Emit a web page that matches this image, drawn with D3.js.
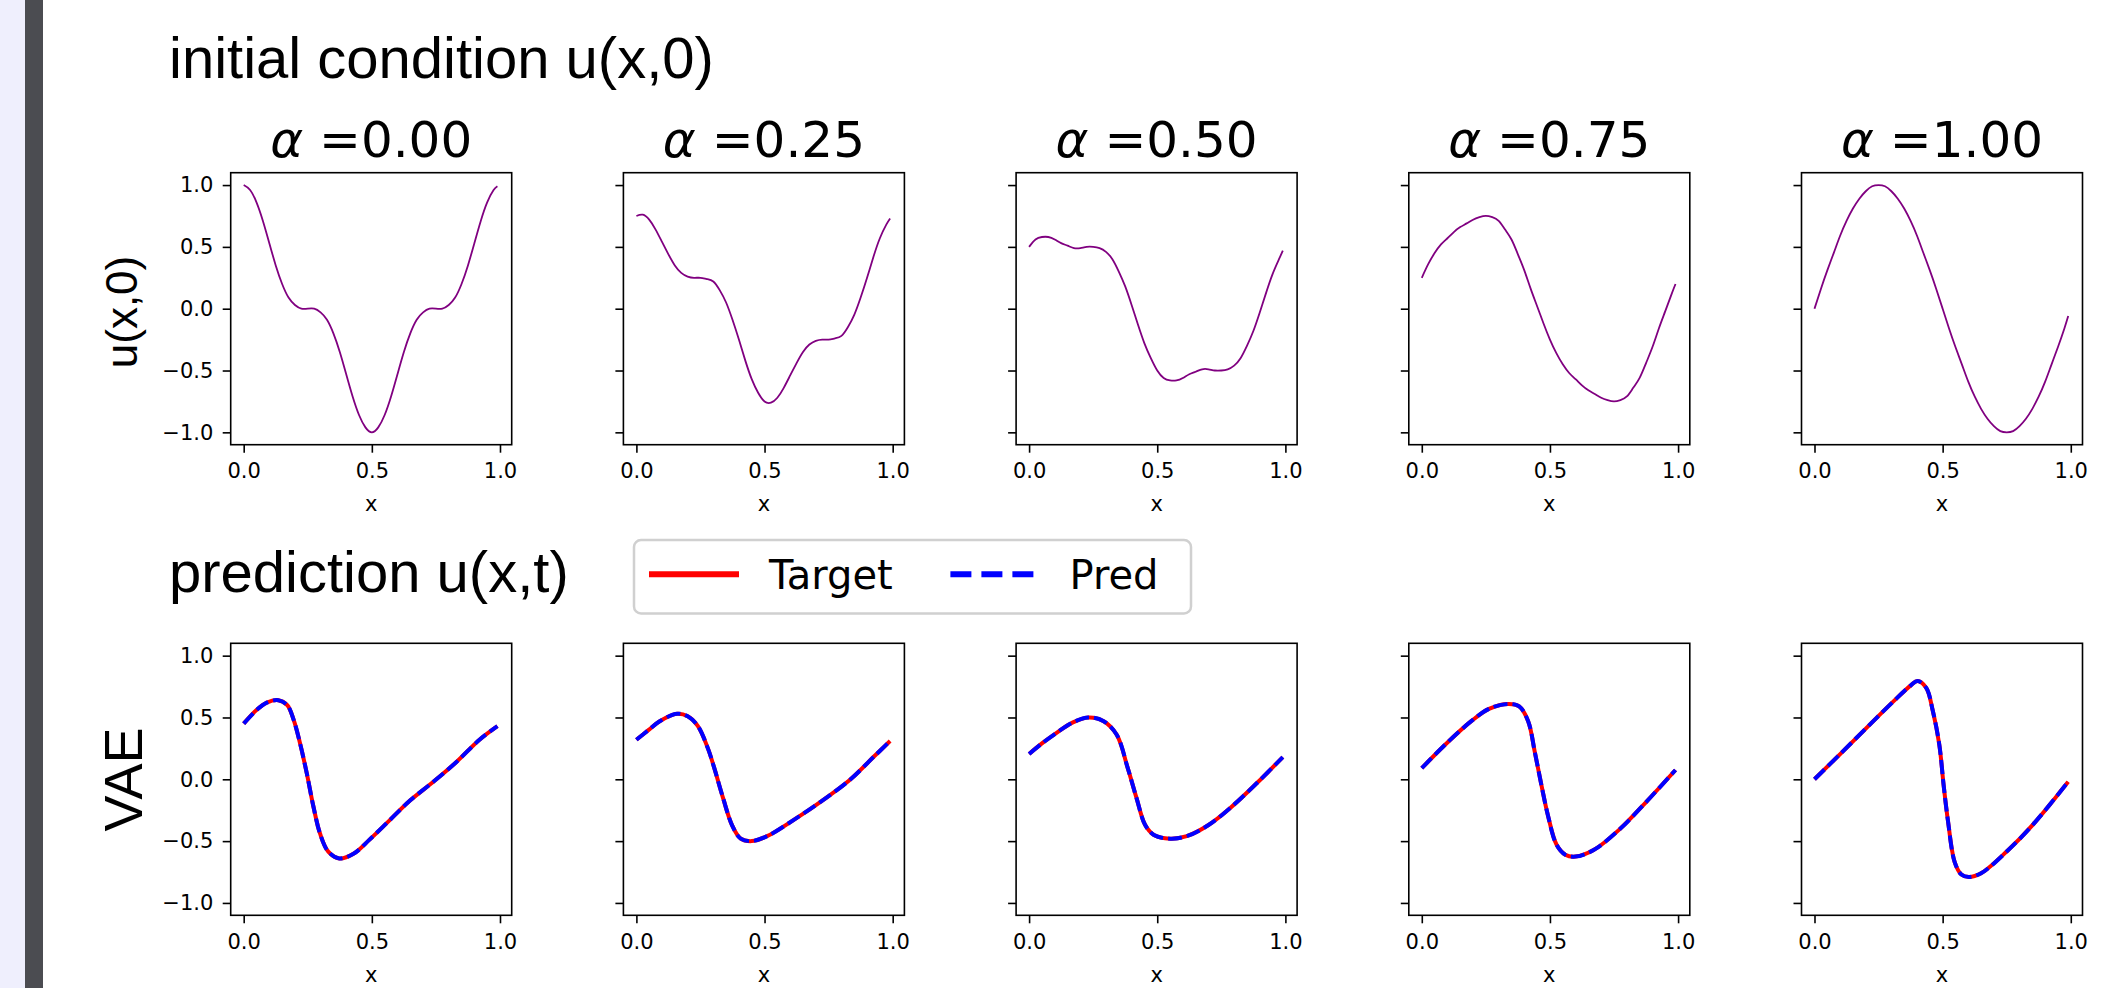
<!DOCTYPE html>
<html>
<head>
<meta charset="utf-8">
<script src="https://cdn.jsdelivr.net/npm/d3@7"></script>
<style>
  body { margin: 0; background: #fff; }
  svg text { font-family: "DejaVu Sans", sans-serif; }
  .heading { font-family: "Liberation Sans", Arial, sans-serif; }
</style>
</head>
<body>
<svg width="2111" height="988"></svg>
<script>
// alpha of each column
var alphas = [0.00, 0.25, 0.50, 0.75, 1.00];
var yTicks = [-1.0, -0.5, 0.0, 0.5, 1.0];
var xTicks = [0.0, 0.5, 1.0];

// top row: initial condition u(x,0), read on a common x grid
var xGrid = [0, 0.025, 0.05, 0.075, 0.1, 0.125, 0.15, 0.175, 0.2, 0.225,
             0.25, 0.275, 0.3, 0.325, 0.35, 0.375, 0.4, 0.425, 0.45, 0.475,
             0.5, 0.525, 0.55, 0.575, 0.6, 0.625, 0.65, 0.675, 0.7, 0.725,
             0.75, 0.775, 0.8, 0.825, 0.85, 0.875, 0.9, 0.925, 0.95, 0.975, 0.99];
var init000 = [1.00, 0.96, 0.86, 0.71, 0.53, 0.35, 0.20, 0.09, 0.03, 0.00,
               0.00, 0.00, -0.03, -0.09, -0.20, -0.35, -0.53, -0.71, -0.86, -0.96,
               -1.00, -0.96, -0.86, -0.71, -0.53, -0.35, -0.20, -0.09, -0.03, 0.00,
               0.00, 0.00, 0.03, 0.09, 0.20, 0.35, 0.53, 0.71, 0.86, 0.96, 0.99];
var init025 = [0.75, 0.76, 0.72, 0.64, 0.54, 0.44, 0.35, 0.29, 0.26, 0.25,
               0.25, 0.24, 0.22, 0.15, 0.05, -0.09, -0.25, -0.42, -0.57, -0.68,
               -0.75, -0.76, -0.72, -0.64, -0.54, -0.44, -0.35, -0.29, -0.26, -0.25,
               -0.25, -0.24, -0.22, -0.15, -0.05, 0.09, 0.25, 0.42, 0.57, 0.68, 0.73];
var init050 = [0.50, 0.56, 0.58, 0.58, 0.56, 0.53, 0.51, 0.49, 0.49, 0.50,
               0.50, 0.49, 0.46, 0.40, 0.30, 0.18, 0.03, -0.13, -0.28, -0.40,
               -0.50, -0.56, -0.58, -0.58, -0.56, -0.53, -0.51, -0.49, -0.49, -0.50,
               -0.50, -0.49, -0.46, -0.40, -0.30, -0.18, -0.03, 0.13, 0.28, 0.40, 0.47];
var init075 = [0.25, 0.36, 0.45, 0.52, 0.57, 0.62, 0.66, 0.69, 0.72, 0.74,
               0.75, 0.74, 0.71, 0.64, 0.56, 0.44, 0.31, 0.16, 0.02, -0.12,
               -0.25, -0.36, -0.45, -0.52, -0.57, -0.62, -0.66, -0.69, -0.72, -0.74,
               -0.75, -0.74, -0.71, -0.64, -0.56, -0.44, -0.31, -0.16, -0.02, 0.12, 0.20];
var init100 = [0.00, 0.16, 0.31, 0.45, 0.59, 0.71, 0.81, 0.89, 0.95, 0.99,
               1.00, 0.99, 0.95, 0.89, 0.81, 0.71, 0.59, 0.45, 0.31, 0.16,
               0.00, -0.16, -0.31, -0.45, -0.59, -0.71, -0.81, -0.89, -0.95, -0.99,
               -1.00, -0.99, -0.95, -0.89, -0.81, -0.71, -0.59, -0.45, -0.31, -0.16, -0.06];

// bottom row: target u(x,t)
var targetX000 = [0, 0.05, 0.09, 0.135, 0.17, 0.195, 0.22, 0.246, 0.272, 0.298, 0.33, 0.373, 0.43, 0.49, 0.57, 0.65, 0.74, 0.83, 0.92, 0.99];
var targetU000 = [0.45, 0.56, 0.62, 0.64, 0.60, 0.48, 0.29, 0.05, -0.22, -0.44, -0.585, -0.64, -0.60, -0.49, -0.33, -0.17, -0.02, 0.14, 0.32, 0.43];
var targetX025 = [0, 0.048, 0.091, 0.159, 0.2, 0.24, 0.279, 0.304, 0.338, 0.373, 0.407, 0.45, 0.51, 0.62, 0.72, 0.83, 0.93, 0.99];
var targetU025 = [0.32, 0.40, 0.47, 0.53, 0.51, 0.43, 0.25, 0.09, -0.15, -0.37, -0.48, -0.50, -0.46, -0.32, -0.18, -0.01, 0.19, 0.31];
var targetX050 = [0, 0.05, 0.103, 0.171, 0.231, 0.291, 0.342, 0.385, 0.419, 0.453, 0.487, 0.55, 0.615, 0.70, 0.786, 0.889, 0.99];
var targetU050 = [0.205, 0.29, 0.37, 0.46, 0.50, 0.47, 0.36, 0.09, -0.15, -0.37, -0.45, -0.48, -0.46, -0.37, -0.23, -0.03, 0.18];
var targetX075 = [0, 0.091, 0.193, 0.262, 0.338, 0.38, 0.415, 0.441, 0.467, 0.492, 0.526, 0.56, 0.60, 0.672, 0.774, 0.877, 0.99];
var targetU075 = [0.09, 0.28, 0.47, 0.57, 0.61, 0.59, 0.47, 0.22, -0.05, -0.29, -0.53, -0.61, -0.625, -0.57, -0.40, -0.18, 0.075];
var targetX100 = [0, 0.103, 0.205, 0.308, 0.376, 0.402, 0.436, 0.462, 0.487, 0.504, 0.521, 0.547, 0.573, 0.602, 0.65, 0.752, 0.855, 0.99];
var targetU100 = [0.0, 0.21, 0.42, 0.63, 0.76, 0.795, 0.74, 0.55, 0.28, -0.05, -0.34, -0.67, -0.77, -0.79, -0.76, -0.58, -0.36, -0.02];

// VAE prediction sits on top of the target within the line width
var predX = [targetX000, targetX025, targetX050, targetX075, targetX100];
var predU = [targetU000, targetU025, targetU050, targetU075, targetU100];

var initRows = [init000, init025, init050, init075, init100];
var targetX = [targetX000, targetX025, targetX050, targetX075, targetX100];
var targetU = [targetU000, targetU025, targetU050, targetU075, targetU100];

function main() {
    var svg = d3.select("svg");

    // page chrome on the left
    svg.append("rect").attr("x", 0).attr("y", 0).attr("width", 25).attr("height", 988).attr("fill", "#efeffd");
    svg.append("rect").attr("x", 25).attr("y", 0).attr("width", 18).attr("height", 988).attr("fill", "#4b4c51");

    var panelW = 281, panelH = 272,
        left0 = 230.7, step = 392.7,
        topRowY = 172.7, botRowY = 643.3;

    var x = d3.scaleLinear().domain([-0.0507, 1.0457]).range([0, panelW]);
    var y = d3.scaleLinear().domain([-1.1, 1.1]).range([panelH, 0]);
    var fmt = d3.format(".1f");

    function panel(i, top, showY) {
        var g = svg.append("g")
            .attr("transform", "translate(" + (left0 + i * step) + "," + top + ")");

        var ax = g.append("g")
            .attr("transform", "translate(0," + panelH + ")")
            .call(d3.axisBottom(x).tickValues(xTicks).tickFormat(fmt)
                  .tickSize(8).tickSizeOuter(0).tickPadding(10.5));
        var ay = g.append("g")
            .call(d3.axisLeft(y).tickValues(yTicks).tickFormat(showY ? fmt : "")
                  .tickSize(8).tickSizeOuter(0).tickPadding(9.4));
        [ax, ay].forEach(function(a) {
            a.attr("font-size", 21).attr("font-family", "DejaVu Sans");
            a.select(".domain").remove();
            a.selectAll("line").attr("stroke", "#000").attr("stroke-width", 1.6);
            a.selectAll("text").attr("fill", "#000");
        });

        g.append("text")
            .attr("x", panelW / 2).attr("y", panelH + 66.4)
            .attr("text-anchor", "middle").attr("font-size", 21)
            .text("x");
        return g;
    }

    function frame(g) {
        g.append("rect").attr("width", panelW).attr("height", panelH)
            .attr("fill", "none").attr("stroke", "#000").attr("stroke-width", 1.6);
    }

    // top row
    alphas.forEach(function(a, i) {
        var g = panel(i, topRowY, i === 0);
        var line = d3.line()
            .x(function(d, k) { return x(xGrid[k]); })
            .y(function(d) { return y(d); })
            .curve(d3.curveNatural);
        g.append("path").datum(initRows[i])
            .attr("d", line).attr("fill", "none")
            .attr("stroke", "#800080").attr("stroke-width", 1.8);
        frame(g);

        var t = g.append("text")
            .attr("x", panelW / 2).attr("y", 157 - topRowY)
            .attr("text-anchor", "middle").attr("font-size", 50);
        t.append("tspan").attr("font-style", "italic").text("\u03b1");
        t.append("tspan").text(" =" + a.toFixed(2));
    });

    // bottom row
    alphas.forEach(function(a, i) {
        var g = panel(i, botRowY, i === 0);
        var tl = d3.line()
            .x(function(d, k) { return x(targetX[i][k]); })
            .y(function(d) { return y(d); })
            .curve(d3.curveCatmullRom.alpha(0.5));
        var pl = d3.line()
            .x(function(d, k) { return x(predX[i][k]); })
            .y(function(d) { return y(d); })
            .curve(d3.curveCatmullRom.alpha(0.5));
        g.append("path").datum(targetU[i])
            .attr("d", tl).attr("fill", "none")
            .attr("stroke", "#ff0000").attr("stroke-width", 4);
        g.append("path").datum(predU[i])
            .attr("d", pl).attr("fill", "none")
            .attr("stroke", "#0000ff").attr("stroke-width", 4)
            .attr("stroke-dasharray", "14 5");
        frame(g);
    });

    // headings and row labels
    svg.append("text").attr("class", "heading")
        .attr("x", 169).attr("y", 78.3).attr("font-size", 58)
        .text("initial condition u(x,0)");
    svg.append("text").attr("class", "heading")
        .attr("x", 169).attr("y", 591.7).attr("font-size", 58)
        .text("prediction u(x,t)");
    svg.append("text").attr("class", "heading")
        .attr("transform", "translate(137,312) rotate(-90)")
        .attr("text-anchor", "middle").attr("font-size", 44)
        .text("u(x,0)");
    svg.append("text").attr("class", "heading")
        .attr("transform", "translate(141.7,779.5) rotate(-90)")
        .attr("text-anchor", "middle").attr("font-size", 54)
        .text("VAE");

    // legend
    var lg = svg.append("g");
    lg.append("rect").attr("x", 634).attr("y", 540).attr("width", 557).attr("height", 73.5)
        .attr("rx", 7).attr("fill", "#fff").attr("stroke", "#d0d0d0").attr("stroke-width", 2.5);
    lg.append("line").attr("x1", 649).attr("x2", 739).attr("y1", 574.3).attr("y2", 574.3)
        .attr("stroke", "#ff0000").attr("stroke-width", 6);
    lg.append("text").attr("x", 769).attr("y", 588.5).attr("font-size", 40).text("Target");
    lg.append("line").attr("x1", 950.4).attr("x2", 1035).attr("y1", 574.3).attr("y2", 574.3)
        .attr("stroke", "#0000ff").attr("stroke-width", 6).attr("stroke-dasharray", "21 10");
    lg.append("text").attr("x", 1069.5).attr("y", 588.5).attr("font-size", 40).text("Pred");
}
main();
</script>
</body>
</html>
